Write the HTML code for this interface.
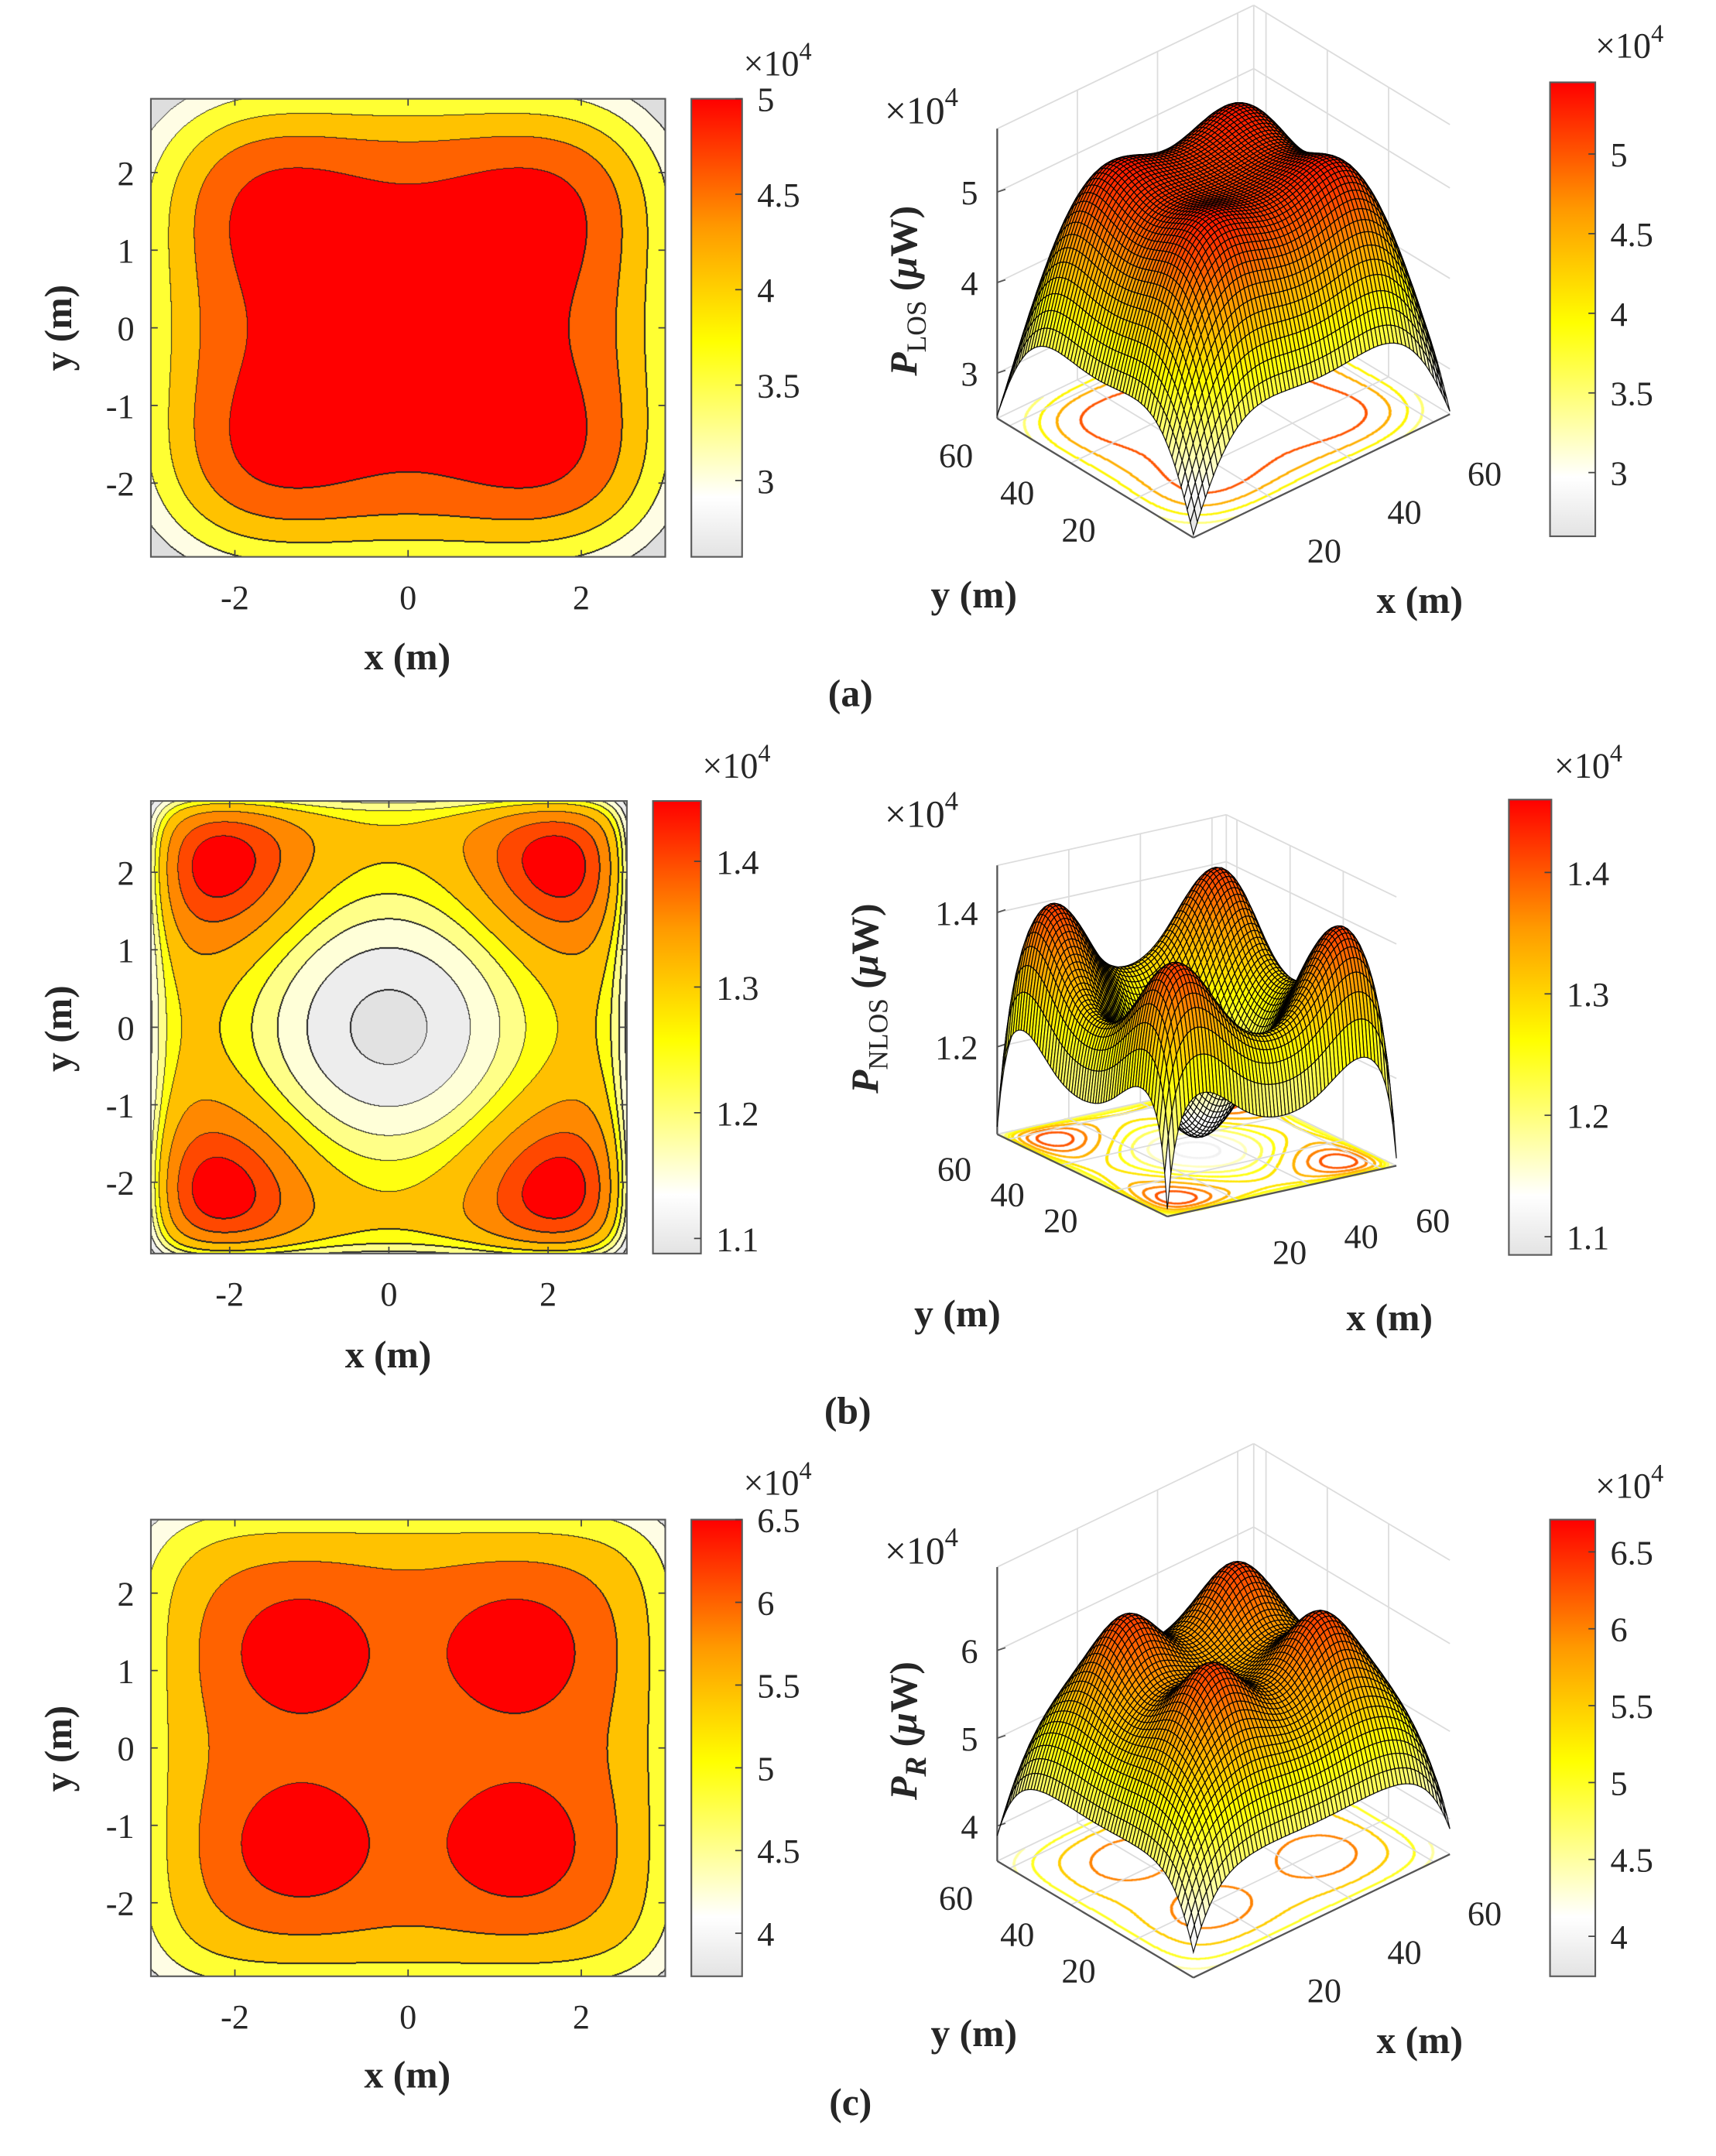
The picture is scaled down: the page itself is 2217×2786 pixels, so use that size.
<!DOCTYPE html>
<html><head><meta charset="utf-8">
<style>
html,body{margin:0;padding:0;background:#fff;}
#wrap{position:relative;width:2217px;height:2786px;overflow:hidden;background:#fff}
canvas,svg{position:absolute;left:0;top:0}
text{font-family:"Liberation Serif",serif;fill:#262626}
.tk{font-size:25px}
.lb{font-size:28px;font-weight:bold}
</style></head>
<body>
<div id="wrap">
<canvas id="cv" width="2217" height="2786"></canvas>
<svg id="sv" width="2217" height="2786" viewBox="0 0 1251 1572">
<defs>
<linearGradient id="cmapGrad" x1="0" y1="1" x2="0" y2="0">
<stop offset="0" stop-color="#e3e3e3"/><stop offset="0.13" stop-color="#ffffff"/><stop offset="0.47" stop-color="#ffff00"/><stop offset="0.72" stop-color="#ff9900"/><stop offset="1" stop-color="#ff0000"/>
</linearGradient>
</defs>
<g id="backLayer"></g>
<g id="surfLayer"></g>
<g id="axLayer"></g>
<text class="lb" x="297" y="488" text-anchor="middle">x (m)</text>
<text class="lb" transform="translate(52,239) rotate(-90)" text-anchor="middle">y (m)</text>
<text class="lb" x="620" y="515" text-anchor="middle">(a)</text>
<text class="lb" x="283" y="997" text-anchor="middle">x (m)</text>
<text class="lb" transform="translate(52,750) rotate(-90)" text-anchor="middle">y (m)</text>
<text class="lb" x="618" y="1038" text-anchor="middle">(b)</text>
<text class="lb" x="297" y="1522" text-anchor="middle">x (m)</text>
<text class="lb" transform="translate(52,1275) rotate(-90)" text-anchor="middle">y (m)</text>
<text class="lb" x="620" y="1542" text-anchor="middle">(c)</text>

<text class="lb" x="710" y="443" text-anchor="middle">y (m)</text>
<text class="lb" x="1035" y="447" text-anchor="middle">x (m)</text>
<text class="lb" x="698" y="967" text-anchor="middle">y (m)</text>
<text class="lb" x="1013" y="970" text-anchor="middle">x (m)</text>
<text class="lb" x="710" y="1492" text-anchor="middle">y (m)</text>
<text class="lb" x="1035" y="1497" text-anchor="middle">x (m)</text>

<text class="lb" transform="translate(668,212) rotate(-90)" text-anchor="middle"><tspan font-style="italic">P</tspan><tspan font-size="20" font-weight="normal" dy="7">LOS</tspan><tspan dy="-7"> (</tspan><tspan font-style="italic">μ</tspan><tspan>W)</tspan></text>
<text class="lb" transform="translate(640,728) rotate(-90)" text-anchor="middle"><tspan font-style="italic">P</tspan><tspan font-size="20" font-weight="normal" dy="7">NLOS</tspan><tspan dy="-7"> (</tspan><tspan font-style="italic">μ</tspan><tspan>W)</tspan></text>
<text class="lb" transform="translate(668,1262) rotate(-90)" text-anchor="middle"><tspan font-style="italic">P</tspan><tspan font-size="22" font-style="italic" dy="7">R</tspan><tspan dy="-7"> (</tspan><tspan font-style="italic">μ</tspan><tspan>W)</tspan></text>
</svg>
</div>
<script>
// ---------- data / model parameters ----------
const levelsA=[3.0,3.5,4.0,4.5,5.0];
const levelsB=[1.11,1.168,1.215,1.252,1.285,1.33,1.37,1.40];
const levelsC=[4.0,4.5,5.0,5.5,6.0];
const bandColorsAC=['#dedede','#fffde4','#ffff33','#ffc200','#ff6200','#ff0000'];
const bandColorsB=['#e2e2e2','#ededed','#ffffd8','#ffff88','#ffff10','#ffc000','#ff8800','#ff4800','#ff0000'];
const baseLevelsA=[3.5,4.0,4.5,5.0];
const baseLevelsC=[4.5,5.0,5.5,6.0];
// LOS model (a)
const srcXA=[-1.6,1.6,-1.6,1.6], srcYA=[-1.6,-1.6,1.6,1.6];
const peakA=5.08, bumpAmpA=0.35, bumpWA=1.5, edgeAA=3.5, edgeNA=5;
// NLOS model (b)
const srcXB=[-2.1,2.1,-2.1,2.1], srcYB=[-2.1,-2.1,2.1,2.1];
const baseB=1.33, dipB=0.24, dipWB=2.77, bumpAmpB=0.105, bumpWB=1.2, wallB=0.14, wallLenB=0.22;
// Received model (c)
const srcXC=[-1.25,1.25,-1.25,1.25], srcYC=[-1.25,-1.25,1.25,1.25];
const peakC=5.66, bumpAmpC=0.72, bumpWC=0.8, edgeAC=3.74, edgeNC=6.65;
// tick arrays
const xTicks2D=[-2,0,2], yTicks2D=[-2,-1,0,1,2];
const cbTicksA=[3,3.5,4,4.5,5], cbTicksB=[1.1,1.2,1.3,1.4], cbTicksC=[4,4.5,5,5.5,6,6.5];
const cb3TicksA=[3,3.5,4,4.5,5], cb3TicksB=[1.1,1.2,1.3,1.4], cb3TicksC=[4,4.5,5,5.5,6,6.5];
const zTicksA=[3,4,5], zTicksB=[1.2,1.4], zTicksC=[4,5,6];
const xyTicks3D=[20,40,60];

const cmapStops=[[0,[227,227,227]],[0.13,[255,255,255]],[0.47,[255,255,0]],[0.72,[255,153,0]],[1,[255,0,0]]];

function gEdge(t,a,n){return 1/(1+Math.pow(Math.abs(t)/a,n));}
function bumps(x,y,sx,sy,amp,w){let s=0;for(let k=0;k<sx.length;k++){const d=(x-sx[k])**2+(y-sy[k])**2;s+=amp*Math.exp(-d/w);}return s;}
function fieldA(x,y){return peakA*gEdge(x,edgeAA,edgeNA)*gEdge(y,edgeAA,edgeNA)+bumps(x,y,srcXA,srcYA,bumpAmpA,bumpWA);}
function fieldB(x,y){const r2=x*x+y*y;return baseB-dipB*Math.exp(-r2/dipWB)+bumps(x,y,srcXB,srcYB,bumpAmpB,bumpWB)-wallB*(Math.exp(-(2.95-Math.abs(x))/wallLenB)+Math.exp(-(2.95-Math.abs(y))/wallLenB));}
function fieldC(x,y){return peakC*gEdge(x,edgeAC,edgeNC)*gEdge(y,edgeAC,edgeNC)+bumps(x,y,srcXC,srcYC,bumpAmpC,bumpWC);}

function cmap(t){t=Math.max(0,Math.min(1,t));for(let i=1;i<cmapStops.length;i++){if(t<=cmapStops[i][0]){const a=cmapStops[i-1],b=cmapStops[i];const u=(t-a[0])/(b[0]-a[0]);return [0,1,2].map(k=>Math.round(a[1][k]+u*(b[1][k]-a[1][k])));}}return cmapStops[cmapStops.length-1][1];}
function rgb(c){return 'rgb('+c[0]+','+c[1]+','+c[2]+')';}
function bandOf(v,lv){let b=0;while(b<lv.length&&v>=lv[b])b++;return b;}

const S=2217/1251;
const NS='http://www.w3.org/2000/svg';
const svg=document.getElementById('sv');
const axL=document.getElementById('axLayer');
const backL=document.getElementById('backLayer');
const surfL=document.getElementById('surfLayer');
const ctx=document.getElementById('cv').getContext('2d');
function mk(tag,attrs,parent){const e=document.createElementNS(NS,tag);for(const k in attrs)e.setAttribute(k,attrs[k]);(parent||axL).appendChild(e);return e;}
function txt(s,x,y,anchor,cls,name,parent){const t=mk('text',{x:x,y:y,'text-anchor':anchor,'class':cls},parent);t.textContent=s;return t;}
function times10(x,y,fs,name){const t=mk('text',{x:x,y:y,'font-size':fs});
 const a=document.createElementNS(NS,'tspan');a.textContent='×10';t.appendChild(a);
 const b=document.createElementNS(NS,'tspan');b.setAttribute('dy',-fs*0.45);b.setAttribute('font-size',fs*0.7);b.textContent='4';t.appendChild(b);}

// ---------- 2D contour panels ----------
const panels2D=[
 {id:'a',f:fieldA,box:[110,72,485,406],xr:[-2.97,2.97],yr:[-2.95,2.95],lv:levelsA,bc:bandColorsAC,cb:[504,72,541,406],cr:[2.6,5.0],cbt:cbTicksA,tx:[542,55]},
 {id:'b',f:fieldB,box:[110,584,457,914],xr:[-2.99,2.99],yr:[-2.92,2.92],lv:levelsB,bc:bandColorsB,cb:[476,584,511,914],cr:[1.088,1.448],cbt:cbTicksB,tx:[512,567]},
 {id:'c',f:fieldC,box:[110,1108,485,1441],xr:[-2.97,2.97],yr:[-2.95,2.95],lv:levelsC,bc:bandColorsAC,cb:[504,1108,541,1441],cr:[3.74,6.5],cbt:cbTicksC,tx:[542,1090]}
];
function hex2rgb(h){return [parseInt(h.substr(1,2),16),parseInt(h.substr(3,2),16),parseInt(h.substr(5,2),16)];}
panels2D.forEach(p=>{
 const [bx0,by0,bx1,by1]=p.box;
 const X0=Math.round(bx0*S),Y0=Math.round(by0*S),X1=Math.round(bx1*S),Y1=Math.round(by1*S);
 const w=X1-X0,h=Y1-Y0;
 const band=new Int16Array(w*h);
 for(let j=0;j<h;j++)for(let i=0;i<w;i++){
  const xd=p.xr[0]+(i+0.5)/w*(p.xr[1]-p.xr[0]);
  const yd=p.yr[1]-(j+0.5)/h*(p.yr[1]-p.yr[0]);
  band[j*w+i]=bandOf(p.f(xd,yd),p.lv);
 }
 const img=ctx.createImageData(w,h);const cols=p.bc.map(hex2rgb);
 for(let j=0;j<h;j++)for(let i=0;i<w;i++){
  const k=j*w+i;const b=band[k];
  let edge=(i<w-1&&band[k+1]!==b)||(j<h-1&&band[k+w]!==b)||(i>0&&band[k-1]>b)||(j>0&&band[k-w]>b);
  const c=edge?[35,35,35]:cols[b];
  img.data[4*k]=c[0];img.data[4*k+1]=c[1];img.data[4*k+2]=c[2];img.data[4*k+3]=255;
 }
 ctx.putImageData(img,X0,Y0);
 const sx=v=>bx0+(v-p.xr[0])/(p.xr[1]-p.xr[0])*(bx1-bx0);
 const sy=v=>by1-(v-p.yr[0])/(p.yr[1]-p.yr[0])*(by1-by0);
 const fr=mk('rect',{x:bx0,y:by0,width:bx1-bx0,height:by1-by0,fill:'none',stroke:'#5a5a5a','stroke-width':1.2});
 
 xTicks2D.forEach(v=>{const x=sx(v);mk('line',{x1:x,y1:by1,x2:x,y2:by1-5,stroke:'#444'});mk('line',{x1:x,y1:by0,x2:x,y2:by0+5,stroke:'#444'});
  txt(String(v),x,by1+38,'middle','tk','x-tick-label-'+p.id);});
 yTicks2D.forEach(v=>{const y=sy(v);mk('line',{x1:bx0,y1:y,x2:bx0+5,y2:y,stroke:'#444'});mk('line',{x1:bx1,y1:y,x2:bx1-5,y2:y,stroke:'#444'});
  txt(String(v),98,y+9,'end','tk','y-tick-label-'+p.id);});
 const [cx0,cy0,cx1,cy1]=p.cb;
 const cr=mk('rect',{x:cx0,y:cy0,width:cx1-cx0,height:cy1-cy0,fill:'url(#cmapGrad)',stroke:'#5a5a5a','stroke-width':1.2});
 
 p.cbt.forEach(v=>{const y=cy1-(v-p.cr[0])/(p.cr[1]-p.cr[0])*(cy1-cy0);mk('line',{x1:cx1,y1:y,x2:cx1-5,y2:y,stroke:'#444'});
  txt(String(v),cx1+11,y+9,'start','tk','colorbar-tick-label-'+p.id);});
 times10(p.tx[0],p.tx[1],26,'colorbar-exponent-'+p.id);
});

// ---------- 3D surface panels ----------
const panels3D=[
 {id:'a',f:fieldA,F:[870,392],R:[1057,302],L:[727,305],zb:2.5,kz:66,ztop:5.7,cr:[2.6,5.45],lv:baseLevelsA,zt:zTicksA,cb:[1130,60,1163,391],cbt:cb3TicksA,tx:[645,90],ctx:[1163,42]},
 {id:'b',f:fieldB,F:[851,887],R:[1018,850],L:[727,827],zb:1.07,kz:490,ztop:1.47,cr:[1.085,1.46],lv:levelsB,zt:zTicksB,cb:[1100,583,1131,915],cbt:cb3TicksB,tx:[645,603],ctx:[1133,567]},
 {id:'c',f:fieldC,F:[870,1442],R:[1057,1352],L:[727,1357],zb:3.6,kz:64,ztop:6.95,cr:[3.74,6.71],lv:baseLevelsC,zt:zTicksC,cb:[1130,1108,1163,1441],cbt:cb3TicksC,tx:[645,1140],ctx:[1163,1092]}
];
panels3D.forEach(p=>{
 const P=(X,Y,z)=>[p.F[0]+X*(p.R[0]-p.F[0])+Y*(p.L[0]-p.F[0]), p.F[1]+X*(p.R[1]-p.F[1])+Y*(p.L[1]-p.F[1])-(z-p.zb)*p.kz];
 const dom=v=>-2.95+5.9*v;
 const gl=(a,b,name)=>{const l=mk('line',{x1:a[0],y1:a[1],x2:b[0],y2:b[1],stroke:'#dcdcdc','stroke-width':1},backL);};
 xyTicks3D.forEach(t=>{const f=t/64;
  gl(P(f,0,p.zb),P(f,1,p.zb),'grid-line');gl(P(0,f,p.zb),P(1,f,p.zb),'grid-line');
  gl(P(f,1,p.zb),P(f,1,p.ztop),'grid-line');gl(P(1,f,p.zb),P(1,f,p.ztop),'grid-line');});
 p.zt.forEach(z=>{gl(P(0,1,z),P(1,1,z),'grid-line');gl(P(1,1,z),P(1,0,z),'grid-line');});
 gl(P(0,1,p.ztop),P(1,1,p.ztop),'grid-line');gl(P(1,1,p.ztop),P(1,0,p.ztop),'grid-line');gl(P(1,1,p.zb),P(1,1,p.ztop),'grid-line');
 gl(P(0,1,p.zb),P(1,1,p.zb),'grid-line');gl(P(1,1,p.zb),P(1,0,p.zb),'grid-line');
 const al=(a,b,name)=>{const l=mk('line',{x1:a[0],y1:a[1],x2:b[0],y2:b[1],stroke:'#555','stroke-width':1.3},backL);};
 al(P(0,0,p.zb),P(1,0,p.zb),'x-axis-line-3d-'+p.id);al(P(0,0,p.zb),P(0,1,p.zb),'y-axis-line-3d-'+p.id);al(P(0,1,p.zb),P(0,1,p.ztop),'z-axis-line-3d-'+p.id);
 p.zt.forEach(z=>{const q=P(0,1,z);mk('line',{x1:q[0],y1:q[1],x2:q[0]+6,y2:q[1]-2,stroke:'#555'},backL);txt(String(z),q[0]-14,q[1]+9,'end','tk','z-tick-label-'+p.id,backL);});
 xyTicks3D.forEach(t=>{const f=t/64;const a=P(f,0,p.zb);txt(String(t),a[0]+37,a[1]+46,'middle','tk','x-tick-label-3d-'+p.id);
  const b=P(0,f,p.zb);txt(String(t),b[0]-39,b[1]+30,'middle','tk','y-tick-label-3d-'+p.id);});
 const M=360;const bandG=new Int16Array((M+1)*(M+1));
 for(let j=0;j<=M;j++)for(let i=0;i<=M;i++)bandG[j*(M+1)+i]=bandOf(p.f(dom(i/M),dom(j/M)),p.lv);
 ctx.save();ctx.setTransform(S,0,0,S,0,0);
 for(let j=0;j<M;j++)for(let i=0;i<M;i++){const k=j*(M+1)+i;const b=bandG[k];
  const br=bandG[k+1],bd=bandG[k+M+1];
  if(br!==b||bd!==b){const lvl=p.lv[Math.min(b,(br!==b?br:bd))];const c=cmap((lvl-p.cr[0])/(p.cr[1]-p.cr[0]));
   const q=P(i/M,j/M,p.zb);ctx.fillStyle=rgb(c);ctx.fillRect(q[0]-0.6,q[1]-0.6,1.3,1.3);}}
 ctx.restore();
 const N=64;const Z=[];
 for(let j=0;j<=N;j++){Z.push([]);for(let i=0;i<=N;i++)Z[j].push(p.f(dom(i/N),dom(j/N)));}
 const g=mk('g',{},surfL);
 for(let s=2*N-2;s>=0;s--){for(let i=Math.max(0,s-N+1);i<=Math.min(N-1,s);i++){const j=s-i;
  const a=P(i/N,j/N,Z[j][i]),b=P((i+1)/N,j/N,Z[j][i+1]),c=P((i+1)/N,(j+1)/N,Z[j+1][i+1]),d=P(i/N,(j+1)/N,Z[j+1][i]);
  const avg=(Z[j][i]+Z[j][i+1]+Z[j+1][i+1]+Z[j+1][i])/4;
  const col=rgb(cmap((avg-p.cr[0])/(p.cr[1]-p.cr[0])));
  const pa=mk('path',{d:'M'+a[0].toFixed(1)+' '+a[1].toFixed(1)+'L'+b[0].toFixed(1)+' '+b[1].toFixed(1)+'L'+c[0].toFixed(1)+' '+c[1].toFixed(1)+'L'+d[0].toFixed(1)+' '+d[1].toFixed(1)+'Z',fill:col,stroke:'#000','stroke-width':0.7,'stroke-opacity':0.9},g);
  
  
 }}
 times10(p.tx[0],p.tx[1],28,'z-exponent-'+p.id);
 const [cx0,cy0,cx1,cy1]=p.cb;
 const cr=mk('rect',{x:cx0,y:cy0,width:cx1-cx0,height:cy1-cy0,fill:'url(#cmapGrad)',stroke:'#5a5a5a','stroke-width':1.2});
 
 p.cbt.forEach(v=>{const y=cy1-(v-p.cr[0])/(p.cr[1]-p.cr[0])*(cy1-cy0);mk('line',{x1:cx1,y1:y,x2:cx1-5,y2:y,stroke:'#444'});
  txt(String(v),cx1+11,y+9,'start','tk','colorbar-3d-tick-label-'+p.id);});
 times10(p.ctx[0],p.ctx[1],26,'colorbar-3d-exponent-'+p.id);
});
</script>
</body></html>
